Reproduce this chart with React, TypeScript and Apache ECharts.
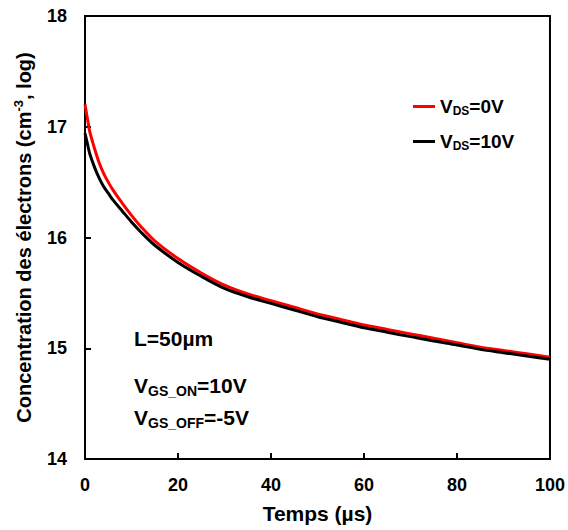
import React, { useEffect, useRef } from "react";
import * as echarts from "echarts";

const times = [0, 0.5, 1, 2, 3, 4, 5, 6, 8, 10, 12, 15, 20, 25, 30, 35, 40, 45, 50, 55, 60, 65, 70, 75, 80, 85, 90, 95, 100];
const vds0 = [17.2, 17.08, 16.96, 16.81, 16.68, 16.58, 16.5, 16.43, 16.31, 16.2, 16.1, 15.97, 15.81, 15.68, 15.57, 15.49, 15.43, 15.37, 15.31, 15.26, 15.21, 15.17, 15.13, 15.09, 15.05, 15.01, 14.98, 14.95, 14.92];
const vds10 = [16.94, 16.85, 16.76, 16.64, 16.54, 16.46, 16.4, 16.34, 16.24, 16.14, 16.05, 15.93, 15.775, 15.65, 15.54, 15.465, 15.405, 15.345, 15.285, 15.235, 15.185, 15.145, 15.105, 15.065, 15.03, 14.99, 14.96, 14.93, 14.9];
const seriesNames = ["V{s|DS}=0V", "V{s|DS}=10V"];
const annotations = ["L=50µm", "V{s|GS_ON}=10V", "V{s|GS_OFF}=-5V"];

const FONT = "'Liberation Sans', Arial, sans-serif";

export default function App() {
  const ref = useRef<HTMLDivElement>(null);
  useEffect(() => {
    if (!ref.current) return;
    const chart = echarts.init(ref.current, null, { renderer: "svg" });
    const rich = {
      s: { fontSize: 12, fontWeight: "bold", fontFamily: FONT, color: "#000", padding: [9, 0, 0, 0] },
    };
    const richAnn = {
      s: { fontSize: 14, fontWeight: "bold", fontFamily: FONT, fill: "#000", padding: [10, 0, 0, 0] },
    };
    chart.setOption({
      animation: false,
      textStyle: { fontFamily: FONT },
      grid: { left: 85, right: 17, top: 16, bottom: 71, show: true, borderColor: "#000", borderWidth: 2, backgroundColor: "transparent" },
      legend: {
        orient: "vertical",
        left: 408,
        top: 92,
        itemWidth: 22,
        itemHeight: 3,
        itemGap: 15,
        icon: "rect",
        data: seriesNames,
        textStyle: { fontSize: 19, fontWeight: "bold", color: "#000", fontFamily: FONT, rich },
      },
      xAxis: {
        type: "value",
        min: 0,
        max: 100,
        interval: 20,
        name: "Temps (µs)",
        nameLocation: "middle",
        nameGap: 44,
        nameTextStyle: { fontSize: 21, fontWeight: "bold", color: "#000", fontFamily: FONT },
        axisLine: { lineStyle: { color: "#000", width: 2 } },
        axisTick: { inside: true, length: 6, lineStyle: { color: "#000", width: 2 } },
        axisLabel: { fontSize: 18, fontWeight: "bold", color: "#000", margin: 17, fontFamily: FONT },
        splitLine: { show: false },
      },
      yAxis: {
        type: "value",
        min: 14,
        max: 18,
        interval: 1,
        name: "Concentration des électrons (cm{sup|-3}, log)",
        nameLocation: "middle",
        nameGap: 50,
        nameTextStyle: {
          fontSize: 20,
          fontWeight: "bold",
          color: "#000",
          fontFamily: FONT,
          rich: { sup: { fontSize: 13, fontWeight: "bold", color: "#000", fontFamily: FONT, padding: [0, 0, 10, 0] } },
        },
        axisLine: { lineStyle: { color: "#000", width: 2 } },
        axisTick: { inside: true, length: 6, lineStyle: { color: "#000", width: 2 } },
        axisLabel: { fontSize: 18, fontWeight: "bold", color: "#000", margin: 18, fontFamily: FONT },
        splitLine: { show: false },
      },
      graphic: [
        { type: "text", left: 134, top: 328, style: { text: annotations[0], fontSize: 21, fontWeight: "bold", fill: "#000", fontFamily: FONT } },
        { type: "text", left: 134, top: 375, style: { text: annotations[1], fontSize: 21, fontWeight: "bold", fill: "#000", fontFamily: FONT, rich: richAnn } },
        { type: "text", left: 134, top: 407, style: { text: annotations[2], fontSize: 21, fontWeight: "bold", fill: "#000", fontFamily: FONT, rich: richAnn } },
      ],
      series: [
        {
          name: seriesNames[0],
          type: "line",
          smooth: 0.3,
          showSymbol: false,
          data: times.map((t, i) => [t, vds0[i]]),
          lineStyle: { color: "#ff0000", width: 3 },
          itemStyle: { color: "#ff0000" },
          z: 2,
        },
        {
          name: seriesNames[1],
          type: "line",
          smooth: 0.3,
          showSymbol: false,
          data: times.map((t, i) => [t, vds10[i]]),
          lineStyle: { color: "#000", width: 3 },
          itemStyle: { color: "#000" },
          z: 3,
        },
      ],
    });
    return () => chart.dispose();
  }, []);
  return <div ref={ref} style={{ width: 568, height: 530, position: "absolute", left: 0, top: 0 }} />;
}
